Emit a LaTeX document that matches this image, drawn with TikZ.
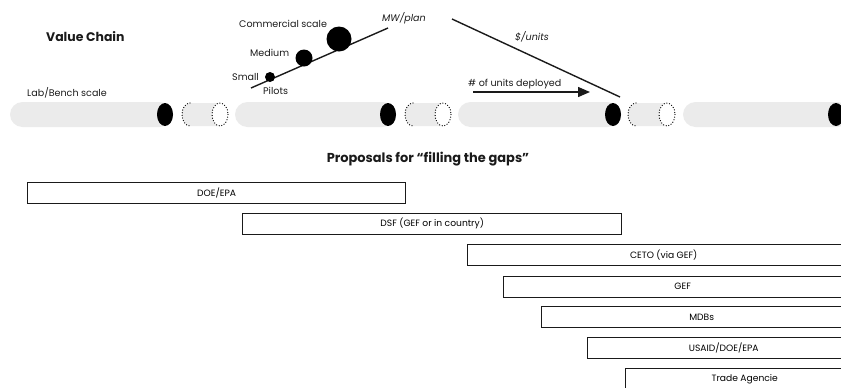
\documentclass[tikz,border=0pt]{standalone}
\usepackage{fontspec}
\setmainfont{Poppins}
\usetikzlibrary{arrows.meta}
\definecolor{tubegray}{HTML}{EBEBEB}
\definecolor{ink}{HTML}{1A1A1A}
\begin{document}
\begin{tikzpicture}[x=1bp,y=-1bp,
  lbl/.style={font=\fontsize{9.6}{11}\selectfont, text=ink, inner sep=0pt, anchor=west},
  ilbl/.style={lbl, font=\fontsize{9.6}{11}\selectfont\itshape},
  ttl/.style={font=\fontsize{12.5}{14}\selectfont\bfseries, text=ink, inner sep=0pt},
  gapbox/.style={draw=ink, line width=1.4bp, fill=white, minimum height=21bp, inner sep=0pt,
                 anchor=north west, font=\fontsize{9.2}{10}\selectfont},
  tube/.style={fill=tubegray, rounded corners=12.5bp},
  endcap/.style={fill=black},
  dotline/.style={draw=black, line width=1.3bp, dash pattern=on 0bp off 2.7bp, line cap=round},
  dot/.style={circle, fill=black, inner sep=0pt},
  conn/.style={draw=ink, line width=1.4bp}
]
\useasboundingbox (0,0) rectangle (841,387);
\clip (0,0) rectangle (841,387);

% ---- tubes ----
\fill[tube] (10,102) rectangle (172,127);
\fill[tube] (235,102) rectangle (395,127);
\fill[tube] (458,102) rectangle (620,127);
\fill[tube] (683,102) rectangle (850,127);
\fill[endcap] (165,114.5) ellipse [x radius=8, y radius=11.5];
\fill[endcap] (388,114.5) ellipse [x radius=8, y radius=11.5];
\fill[endcap] (613,114.5) ellipse [x radius=8, y radius=11.5];
\fill[endcap] (836,114.5) ellipse [x radius=8, y radius=11.5];

% ---- gap pieces ----
\foreach \a/\b in {190/220, 413/443, 636/667} {
  \fill[tubegray] (\a,103) arc[start angle=270, end angle=90, x radius=8, y radius=11.5] -- (\b,126) -- (\b,103) -- cycle;
  \path[dotline] (\a,103) arc[start angle=270, end angle=90, x radius=8, y radius=11.5];
  \path[dotline, fill=white] (\b,114.5) ellipse [x radius=8, y radius=11.5];
}

% ---- labels ----
\node[ttl, anchor=west] (vc) at (46,37) {Value Chain};
\node[lbl] (lab) at (27,93) {Lab/Bench scale};
\node[lbl] (com) at (239,24) {Commercial scale};
\node[lbl] (med) at (250,53) {Medium};
\node[lbl] (sml) at (232,77) {Small};
\node[lbl] (pil) at (263,91) {Pilots};
\node[ilbl] (mw) at (382,18) {MW/plan};
\node[ilbl] (usd) at (515,37) {\$/units};
\node[lbl] (dep) at (468,84) {\# of units deployed};

% ---- scale line with circles ----
\coordinate (s0) at (251,88);
\coordinate (s1) at (388,28);
\draw[conn] (s0) -- (s1);
\node[dot, minimum size=10bp] (c1) at (270,77) {};
\node[dot, minimum size=17bp] (c2) at (304,58) {};
\node[dot, minimum size=25bp] (c3) at (339,39) {};

% ---- cost line ----
\coordinate (u0) at (452,19);
\coordinate (u1) at (620,97);
\draw[conn] (u0) -- (u1);

% ---- deployment arrow ----
\coordinate (a0) at (473,92);
\coordinate (a1) at (590,92);
\draw[conn, -{Triangle[length=12bp,width=10bp]}] (a0) -- (a1);

% ---- proposals ----
\node[ttl, font=\fontsize{13}{15}\selectfont\bfseries] (prop) at (428,159) {Proposals for “filling the gaps”};
\node[gapbox, minimum width=378bp] (doe) at (27,182) {DOE/EPA};
\node[gapbox, minimum width=379bp] (dsf) at (242,212.5) {DSF (GEF or in country)};
\node[gapbox, minimum width=392bp] (ceto) at (467,244) {CETO (via GEF)};
\node[gapbox, minimum width=358bp] (gef) at (503,275.5) {GEF};
\node[gapbox, minimum width=320bp] (mdb) at (541,306) {MDBs};
\node[gapbox, minimum width=272bp] (usaid) at (587,337) {USAID/DOE/EPA};
\node[gapbox, minimum width=238bp] (trade) at (625,368) {Trade Agencie};
\end{tikzpicture}
\end{document}
